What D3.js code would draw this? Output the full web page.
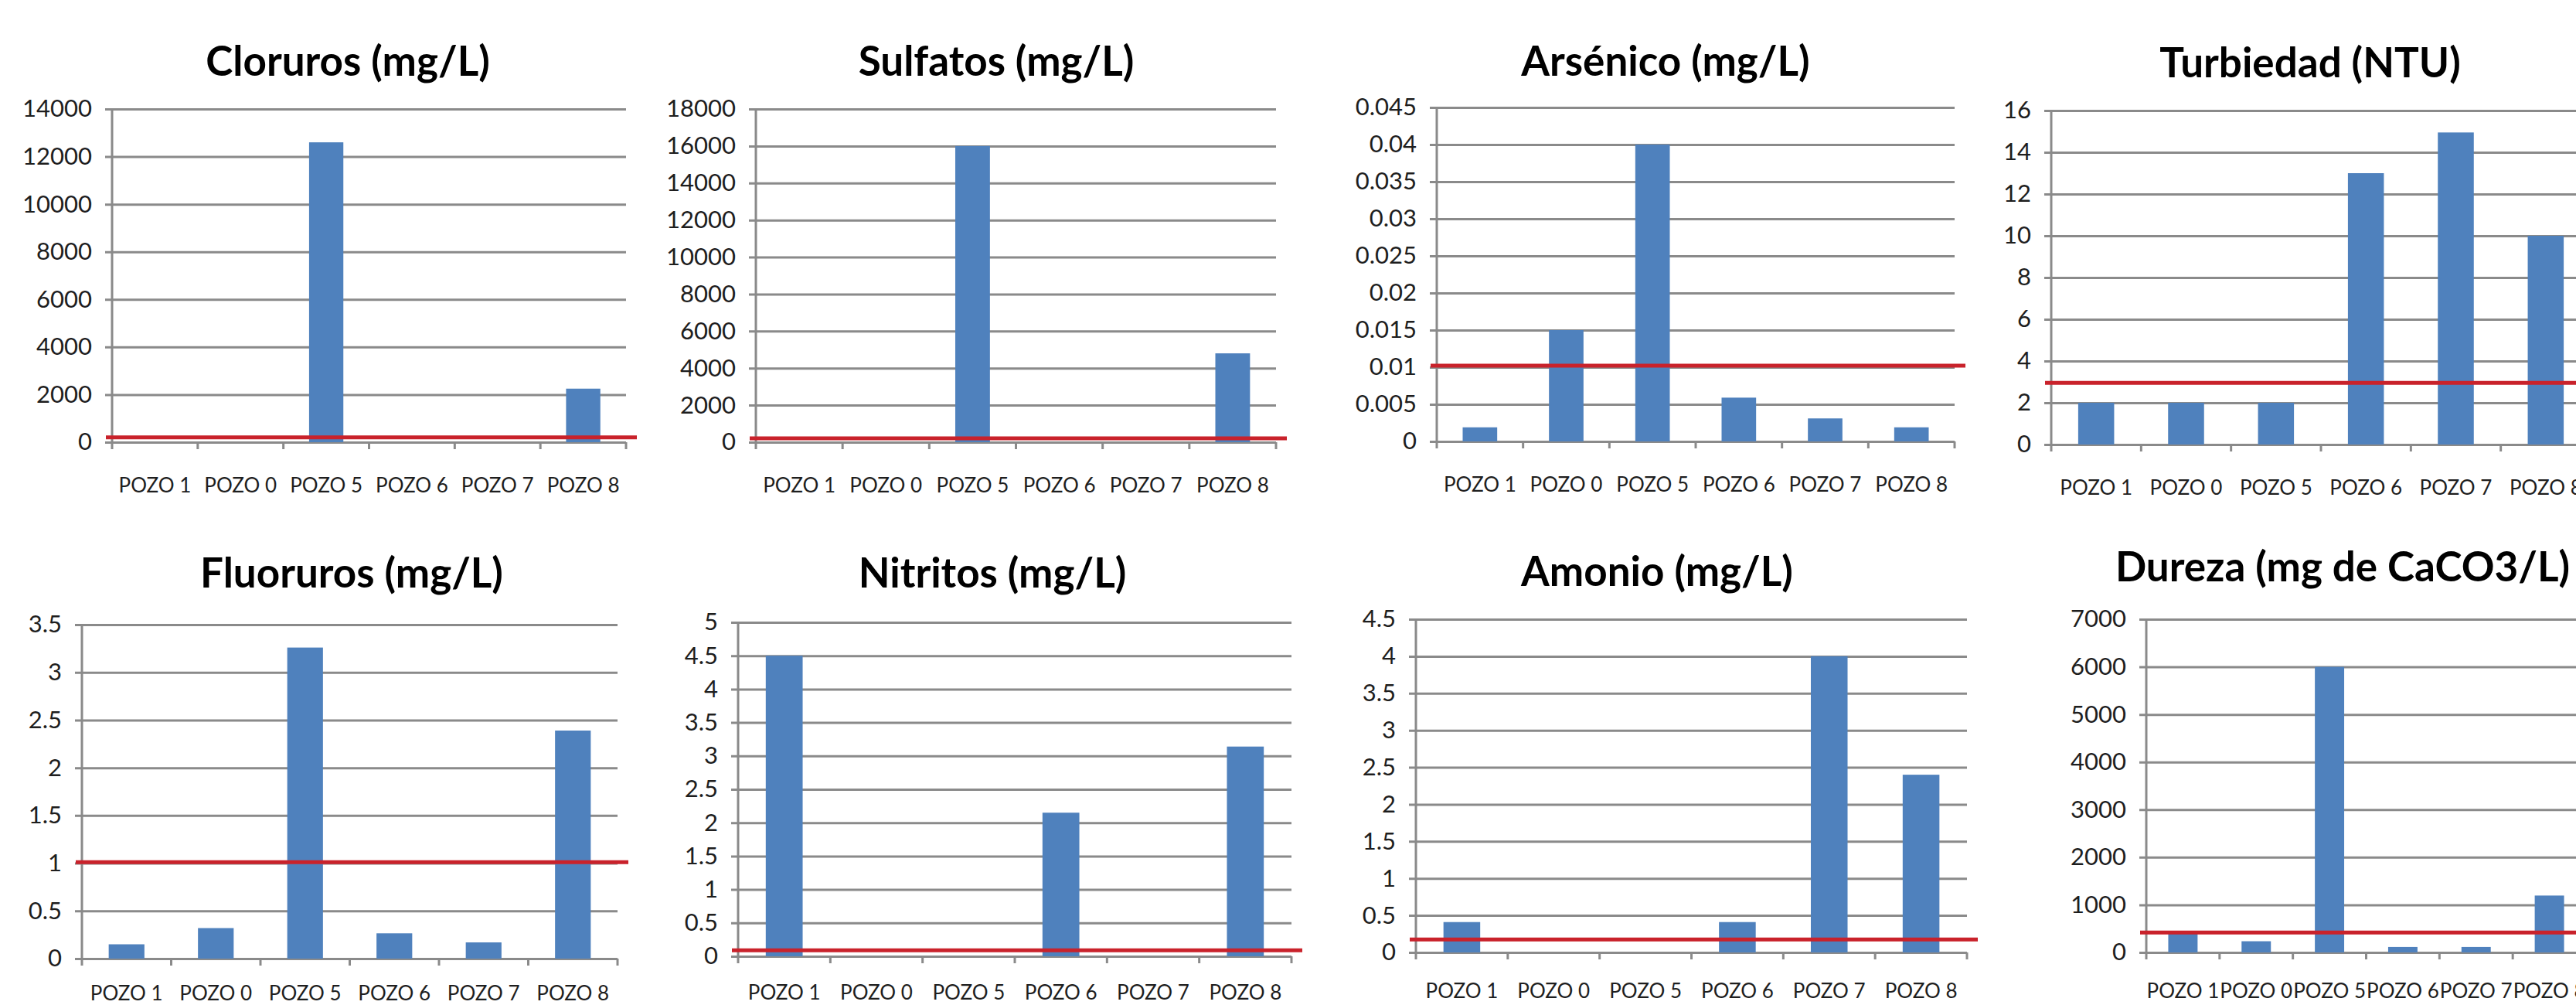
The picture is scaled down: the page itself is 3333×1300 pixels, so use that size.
<!DOCTYPE html>
<html>
<head>
<meta charset="utf-8">
<script src="https://cdn.jsdelivr.net/npm/d3@7"></script>
<style>
  body { margin: 0; background: #fff; }
  svg { display: block; }
  text { font-family: Lato, "Open Sans", sans-serif; }
</style>
</head>
<body>
<div id="chart"></div>
<script>
// categories (same order in every panel)
var pozos = ["POZO 1", "POZO 0", "POZO 5", "POZO 6", "POZO 7", "POZO 8"];

// values
var cloruros  = [0, 0, 12600, 0, 0, 2250];
var sulfatos  = [0, 0, 16000, 0, 0, 4800];
var arsenico  = [0.0019, 0.015, 0.04, 0.0059, 0.0031, 0.0019];
var turbiedad = [2, 2, 2, 13, 14.95, 10];
var fluoruros = [0.15, 0.32, 3.26, 0.265, 0.17, 2.39];
var nitritos  = [4.5, 0, 0, 2.15, 0, 3.14];
var amonio    = [0.41, 0, 0, 0.41, 4, 2.4];
var dureza    = [395, 235, 6000, 115, 115, 1195];

var titles = ["Cloruros (mg/L)", "Sulfatos (mg/L)", "Arsénico (mg/L)", "Turbiedad (NTU)",
              "Fluoruros (mg/L)", "Nitritos (mg/L)", "Amonio (mg/L)", "Dureza (mg de CaCO3/L)"];

// y axis: top value and tick step, and the red limit line
var yMax   = [14000, 18000, 0.045, 16, 3.5, 5, 4.5, 7000];
var yStep  = [2000, 2000, 0.005, 2, 0.5, 0.5, 0.5, 1000];
var limits = [200, 210, 0.0102, 2.95, 1.01, 0.09, 0.175, 420];

var series = [cloruros, sulfatos, arsenico, turbiedad, fluoruros, nitritos, amonio, dureza];

// where each panel sits on the page
var layout = [
  { left: 145,  right: 810,  top: 141, zero: 572,  tx: 450,  ty: 98,  ly: 56 },
  { left: 978,  right: 1651, top: 141, zero: 572,  tx: 1289, ty: 98,  ly: 56 },
  { left: 1859, right: 2529, top: 139, zero: 571,  tx: 2155, ty: 98,  ly: 56 },
  { left: 2654, right: 3352, top: 143, zero: 575,  tx: 2989, ty: 100, ly: 56 },
  { left: 106,  right: 799,  top: 808, zero: 1240, tx: 455,  ty: 760, ly: 45 },
  { left: 955,  right: 1671, top: 805, zero: 1237, tx: 1284, ty: 760, ly: 47 },
  { left: 1832, right: 2545, top: 801, zero: 1232, tx: 2144, ty: 758, ly: 50 },
  { left: 2777, right: 3346, top: 801, zero: 1232, tx: 3031, ty: 752, ly: 50 }
];

var gridColor = "#8a8a8a",
    barColor = "#4f81bd",
    limitColor = "#c9222b";

var svg = d3.select("#chart").append("svg")
    .attr("width", 3333)
    .attr("height", 1300);

var fmt = d3.format("~g");

series.forEach(function (values, i) {
  var L = layout[i];
  var w = L.right - L.left;
  var data = pozos.map(function (p, j) { return { pozo: p, value: values[j] }; });

  var x = d3.scaleBand()
      .domain(pozos)
      .range([L.left, L.right])
      .paddingInner(0.6)
      .paddingOuter(0.3);

  var y = d3.scaleLinear()
      .domain([0, yMax[i]])
      .range([L.zero, L.top]);

  var ticks = d3.range(0, yMax[i] + yStep[i] / 2, yStep[i]);

  var g = svg.append("g");

  // title
  g.append("text")
      .attr("x", L.tx)
      .attr("y", L.ty)
      .attr("text-anchor", "middle")
      .attr("font-size", 53)
      .attr("font-weight", "bold")
      .attr("fill", "#000")
      .text(titles[i]);

  // y axis with gridlines
  var yAxis = g.append("g")
      .attr("transform", "translate(" + (L.left - 9) + ",0)")
      .call(d3.axisLeft(y)
        .tickValues(ticks)
        .tickFormat(fmt)
        .tickSizeInner(-(w + 9))
        .tickSizeOuter(0)
        .tickPadding(17));
  yAxis.select(".domain").remove();
  yAxis.selectAll(".tick line")
      .attr("stroke", gridColor)
      .attr("stroke-width", 3);
  yAxis.selectAll(".tick text")
      .attr("font-size", 31)
      .attr("font-family", "Lato, sans-serif")
      .attr("fill", "#1e1e1e");

  // bars
  g.selectAll("rect")
      .data(data)
      .enter()
      .append("rect")
      .attr("x", function (d) { return x(d.pozo); })
      .attr("y", function (d) { return y(d.value); })
      .attr("width", x.bandwidth())
      .attr("height", function (d) { return L.zero - y(d.value); })
      .attr("fill", barColor);

  // vertical axis line
  g.append("line")
      .attr("x1", L.left).attr("x2", L.left)
      .attr("y1", y(yMax[i])).attr("y2", L.zero + 9)
      .attr("stroke", gridColor)
      .attr("stroke-width", 3);

  // category boundary ticks under the x axis
  var edges = pozos.map(function (p) { return x(p) - x.step() * x.paddingOuter(); });
  edges.push(L.right);
  g.selectAll(".edge")
      .data(edges.slice(1))
      .enter()
      .append("line")
      .attr("x1", function (d) { return d; })
      .attr("x2", function (d) { return d; })
      .attr("y1", L.zero)
      .attr("y2", L.zero + 9)
      .attr("stroke", gridColor)
      .attr("stroke-width", 3);

  // category labels
  g.selectAll(".lab")
      .data(pozos)
      .enter()
      .append("text")
      .attr("x", function (d) { return x(d) + x.bandwidth() / 2; })
      .attr("y", L.zero + L.ly)
      .attr("dy", "0.35em")
      .attr("text-anchor", "middle")
      .attr("font-size", 26)
      .attr("fill", "#1e1e1e")
      .text(function (d) { return d; });

  // red limit line
  g.append("line")
      .attr("x1", L.left - 8)
      .attr("x2", L.right + 14)
      .attr("y1", y(limits[i]))
      .attr("y2", y(limits[i]))
      .attr("stroke", limitColor)
      .attr("stroke-width", 5);
});
</script>
</body>
</html>
